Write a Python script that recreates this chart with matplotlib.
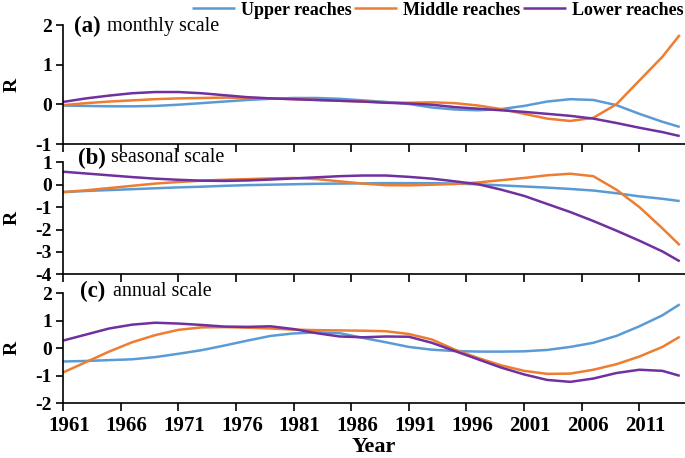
import matplotlib
matplotlib.use("Agg")
import matplotlib.pyplot as plt
import matplotlib.transforms as mtransforms

plt.rcParams['font.family'] = ['Liberation Serif', 'DejaVu Serif']
plt.rcParams['axes.unicode_minus'] = False

years = [1961, 1963, 1965, 1967, 1969, 1971, 1973, 1975, 1977, 1979, 1981, 1983, 1985, 1987,
         1989, 1991, 1993, 1995, 1997, 1999, 2001, 2003, 2005, 2007, 2009, 2011, 2013, 2014.5]

series_names = ["Upper reaches", "Middle reaches", "Lower reaches"]

# (a) monthly scale
monthly_upper = [-0.03, -0.04, -0.05, -0.05, -0.04, -0.01, 0.03, 0.07, 0.11, 0.14, 0.16, 0.16, 0.14, 0.10,
                 0.06, 0.01, -0.08, -0.13, -0.15, -0.12, -0.04, 0.07, 0.13, 0.11, -0.02, -0.24, -0.44, -0.57]
monthly_middle = [-0.02, 0.03, 0.07, 0.10, 0.13, 0.15, 0.16, 0.17, 0.16, 0.15, 0.13, 0.11, 0.09, 0.07,
                  0.05, 0.04, 0.05, 0.03, -0.03, -0.12, -0.24, -0.36, -0.42, -0.34, 0.00, 0.60, 1.20, 1.75]
monthly_lower = [0.06, 0.15, 0.22, 0.28, 0.31, 0.31, 0.28, 0.23, 0.18, 0.15, 0.13, 0.11, 0.09, 0.07,
                 0.04, 0.02, -0.01, -0.07, -0.11, -0.15, -0.19, -0.24, -0.29, -0.36, -0.47, -0.59, -0.70, -0.80]

# (b) seasonal scale
seasonal_upper = [-0.33, -0.28, -0.24, -0.20, -0.16, -0.12, -0.09, -0.05, -0.02, 0.00, 0.02, 0.04, 0.05, 0.06,
                  0.07, 0.07, 0.07, 0.05, 0.02, -0.03, -0.08, -0.13, -0.19, -0.26, -0.38, -0.52, -0.63, -0.73]
seasonal_middle = [-0.33, -0.25, -0.15, -0.05, 0.05, 0.12, 0.18, 0.22, 0.25, 0.28, 0.30, 0.25, 0.15, 0.05,
                   -0.02, -0.03, 0.00, 0.03, 0.10, 0.20, 0.30, 0.42, 0.49, 0.38, -0.22, -1.00, -1.95, -2.70]
seasonal_lower = [0.58, 0.50, 0.42, 0.34, 0.27, 0.22, 0.18, 0.17, 0.19, 0.23, 0.28, 0.33, 0.38, 0.41,
                  0.41, 0.35, 0.27, 0.15, 0.02, -0.22, -0.50, -0.86, -1.22, -1.62, -2.05, -2.50, -2.98, -3.42]

# (c) annual scale
annual_upper = [-0.48, -0.46, -0.43, -0.40, -0.32, -0.20, -0.07, 0.10, 0.28, 0.45, 0.54, 0.58, 0.55, 0.38,
                0.22, 0.05, -0.05, -0.10, -0.12, -0.12, -0.11, -0.06, 0.05, 0.20, 0.45, 0.80, 1.20, 1.60]
annual_middle = [-0.88, -0.50, -0.12, 0.22, 0.48, 0.67, 0.76, 0.77, 0.75, 0.72, 0.68, 0.66, 0.65, 0.64,
                 0.62, 0.52, 0.32, -0.05, -0.35, -0.62, -0.82, -0.93, -0.92, -0.78, -0.58, -0.30, 0.05, 0.42]
annual_lower = [0.28, 0.50, 0.72, 0.86, 0.93, 0.90, 0.85, 0.79, 0.78, 0.80, 0.70, 0.55, 0.43, 0.40,
                0.43, 0.42, 0.20, -0.10, -0.40, -0.70, -0.95, -1.15, -1.22, -1.10, -0.90, -0.78, -0.82, -1.00]

xticks = list(range(1961, 2012, 5))
colors = ["#5B9BD5", "#ED7D31", "#7030A0"]

fig = plt.figure(figsize=(6.85, 4.58), dpi=100)
W, H = 685.0, 458.0
left, right = 63.0, 685.5

def make_ax(top, bottom):
    return fig.add_axes([left / W, 1 - bottom / H, (right - left) / W, (bottom - top) / H])

ax_a = make_ax(25.0, 144.0)
ax_b = make_ax(162.3, 274.3)
ax_c = make_ax(293.3, 403.3)

panels = [
    (ax_a, [monthly_upper, monthly_middle, monthly_lower], (-1, 2), [-1, 0, 1, 2], "(a)", "monthly scale", 26.7, 74),
    (ax_b, [seasonal_upper, seasonal_middle, seasonal_lower], (-4, 1), [-4, -3, -2, -1, 0, 1], "(b)", "seasonal scale", 158.0, 78),
    (ax_c, [annual_upper, annual_middle, annual_lower], (-2, 2), [-2, -1, 0, 1, 2], "(c)", "annual scale", 291.7, 80),
]

handles = []
for ax, data, ylim, yticks, tag, label, ty, tx in panels:
    for vals, c, n in zip(data, colors, series_names):
        h, = ax.plot(years, vals, color=c, lw=1.8, label=n, solid_capstyle='butt')
        if ax is ax_a:
            handles.append(h)
    ax.set_xlim(1961, 2015)
    ax.set_ylim(*ylim)
    ax.set_yticks(yticks)
    ax.set_xticks(xticks)
    for s in ['top', 'right']:
        ax.spines[s].set_visible(False)
    for s in ['left', 'bottom']:
        ax.spines[s].set_linewidth(1.2)
    ax.tick_params(axis='y', direction='out', length=5, width=1.2, labelsize=14, pad=3)
    ax.tick_params(axis='x', direction='out', length=6, width=1.2, labelsize=15, pad=3)
    for t in ax.get_yticklabels():
        t.set_fontweight('bold')
    ax.set_ylabel("R", fontsize=14, fontweight='bold', va='center')
    ax.yaxis.set_label_coords(-(63 - 12) / (right - left), 0.5)
    fig.text(tx / W, 1 - ty / H, tag, fontsize=16.5, fontweight='bold', va='center', ha='left')
    fig.text((tx + 33) / W, 1 - ty / H, label, fontsize=14.5, va='center', ha='left')

ax_a.set_xticklabels([])
ax_b.set_xticklabels([])
ax_c.set_xticklabels([str(y) for y in xticks])
shift = mtransforms.ScaledTranslation(6 / 100.0, 0, fig.dpi_scale_trans)
for t in ax_c.get_xticklabels():
    t.set_fontweight('bold')
    t.set_transform(t.get_transform() + shift)
ax_c.set_xlabel("Year", fontsize=16, fontweight='bold', labelpad=1)

fig.legend(handles=handles, loc='upper right', bbox_to_anchor=(1.0, 1.0), ncol=3, frameon=False,
           prop={'weight': 'bold', 'size': 13}, handlelength=2.4, handletextpad=0.3,
           columnspacing=0.15, borderaxespad=0.0, borderpad=0.1)

fig.savefig("out.png", dpi=100)
